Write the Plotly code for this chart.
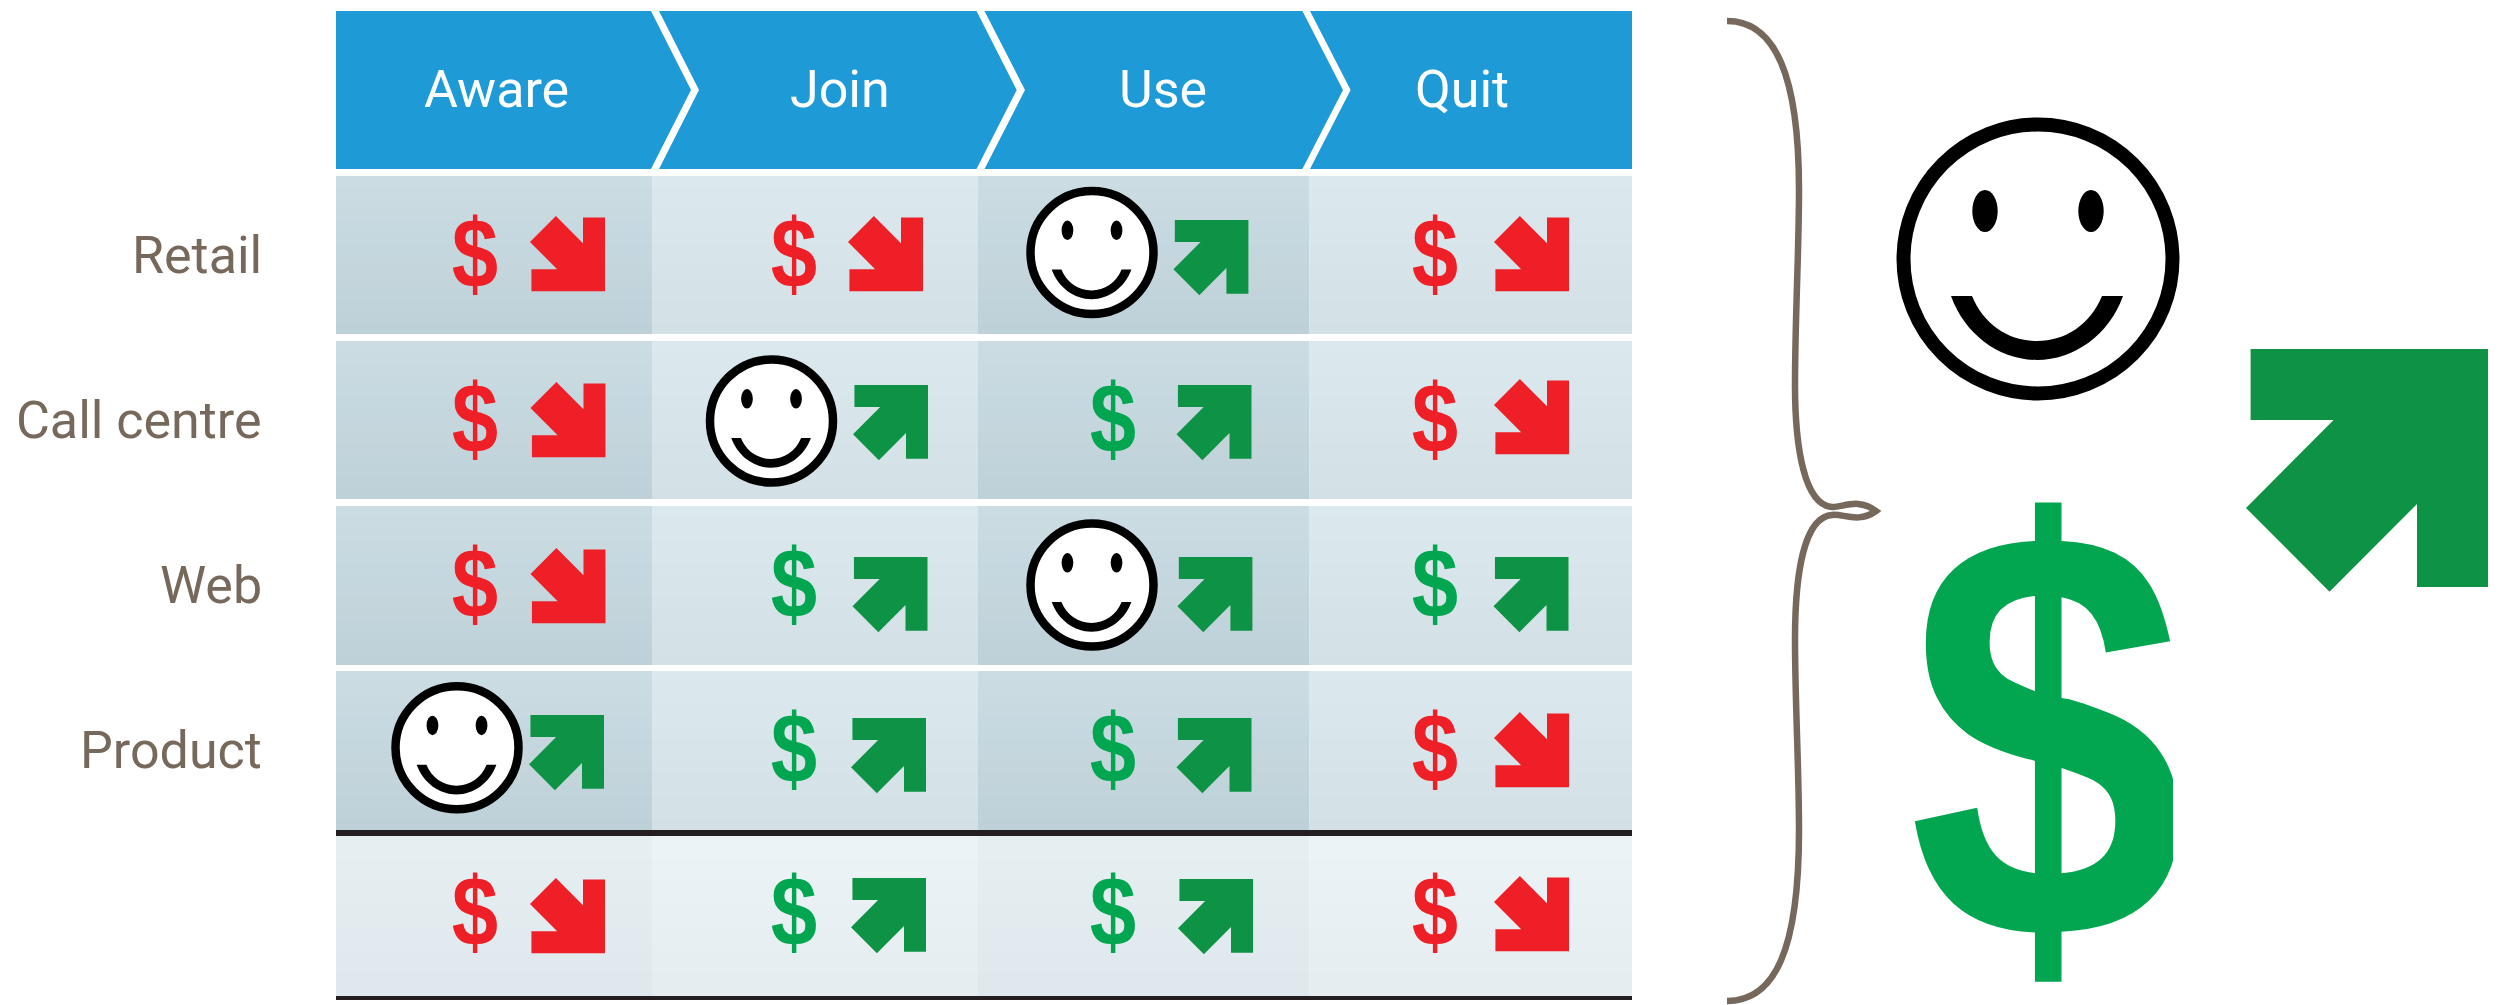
import plotly.graph_objects as go

# ---------- data ----------
stages = ["Aware", "Join", "Use", "Quit"]
channels = ["Retail", "Call centre", "Web", "Product"]
# 1 = up/green, 0 = down/red. Last row is the unlabelled total row
dollar_up = [[0, 0, None, 0],
             [0, None, 1, 0],
             [0, 1, None, 1],
             [None, 1, 1, 0],
             [0, 1, 1, 0]]
arrow_up = [[0, 0, 1, 0],
            [0, 1, 1, 0],
            [0, 1, 1, 1],
            [1, 1, 1, 0],
            [0, 1, 1, 0]]
happy = [(0, 2), (1, 1), (2, 2), (3, 0)]

# ---------- layout tables (pixels) ----------
W, H = 2509, 1005
col_edges = [336, 652, 978, 1309.5, 1632]
row_spans = [(176, 334), (341, 499), (506, 665), (671, 830), (836, 996)]
dollar_x = [475, 794, 1113, 1435]
dollar_y = [255, 420, 585, 750, 913]
smile_x = [457, 771.5, 1092]
smile_y = [252.5, 421, 585, 747.7]
arrow_right = [[605, 923, 1248.4, 1569], [605.5, 928, 1251.5, 1569], [605.5, 927.5, 1252.4, 1568.5],
               [604, 926, 1251.5, 1569], [605, 926, 1253, 1569]]
arrow_top = [[216, 216, 220, 216], [382, 385, 385, 379], [548, 557, 557, 557],
             [715, 718, 718, 712], [878, 878, 879, 876]]
label_y = [255, 420, 585, 750]
header_x = [496.5, 840, 1163, 1462]

BLUE, RED, GREEN_ARROW, GREEN_DOLLAR = "#1e9ad6", "#ee1f26", "#0e9346", "#02a650"
BROWN, DARK = "#76695c", "#231f20"
DOLLAR_FONT = "Liberation Sans"
DOLLAR_SMALL, DOLLAR_BIG = 98, 587
DOLLAR_SHIFT = 0.086  # text box centre sits this far (in em) above the ink centre
DOLLAR_NARROW = 0.85  # horizontal condensing of the dollar glyphs

# arrow glyph, relative to its top right corner, at large size
ARROW = [(-237.4, 0), (0, 0), (0, 238), (-71, 238), (-71, 155), (-158.5, 242.7),
         (-242, 159), (-154.4, 71), (-237.4, 71)]
ARROW_H = 242.7
SMALL = 75 / 242.0

def arrow_points(right, top, up, scale):
    xs, ys = [], []
    for px, py in ARROW:
        xs.append(right + px * scale)
        ys.append(top + (py if up else ARROW_H - py) * scale)
    return xs + [xs[0], None], ys + [ys[0], None]

def mix(a, b, t):
    ca = [int(a[i:i + 2], 16) for i in (1, 3, 5)]
    cb = [int(b[i:i + 2], 16) for i in (1, 3, 5)]
    return "rgb(%d,%d,%d)" % tuple(round(p + (q - p) * t) for p, q in zip(ca, cb))

shapes = []
def rect(x0, y0, x1, y1, color, layer="below"):
    shapes.append(dict(type="rect", x0=x0, y0=y0, x1=x1, y1=y1, fillcolor=color,
                       line=dict(width=0), layer=layer))

# table cells with a soft vertical gradient
palette_main = [("#cbdde3", "#bfd1d8"), ("#dbe8ed", "#d3e0e5")]
palette_total = [("#e5eef1", "#dfe8ec"), ("#ecf3f6", "#e6edf0")]
BANDS = 14
for r, (top, bottom) in enumerate(row_spans):
    pal = palette_total if r == 4 else palette_main
    for c in range(4):
        c0, c1 = pal[c % 2]
        for b in range(BANDS):
            y0 = round(top + (bottom - top) * b / BANDS)
            y1 = round(top + (bottom - top) * (b + 1) / BANDS)
            rect(col_edges[c], y0, col_edges[c + 1], y1, mix(c0, c1, b / (BANDS - 1)))
rect(336, 830, 1632, 836, DARK)
rect(336, 996, 1632, 1000, DARK)

# chevron header
TOP, BOT, MID = 11, 169, 90
seg = [(None, 651, 691), (659, 976.5, 1016.7), (984.5, 1302.4, 1343), (1310, None, None)]
notch = [None, 699, 1025, 1350.6]
for i, (l, rt, tip) in enumerate(seg):
    if i == 0:
        d = f"M 336 {TOP} L {rt} {TOP} L {tip} {MID} L {rt} {BOT} L 336 {BOT} Z"
    elif i == 3:
        d = f"M {l} {TOP} L 1632 {TOP} L 1632 {BOT} L {l} {BOT} L {notch[i]} {MID} Z"
    else:
        d = f"M {l} {TOP} L {rt} {TOP} L {tip} {MID} L {rt} {BOT} L {l} {BOT} L {notch[i]} {MID} Z"
    shapes.append(dict(type="path", path=d, fillcolor=BLUE, line=dict(width=0), layer="below"))

# smiley built of real shapes
MOUTH = [(-87, 37), (-73, 76), (-38, 101), (-1, 101), (36, 101), (71, 76), (85, 37),
         (64, 37), (52, 66), (27, 82), (-1, 82), (-29, 82), (-54, 66), (-66, 37)]
def smiley(cx, cy, outer, stroke, k):
    rad = (outer - stroke) / 2
    shapes.append(dict(type="circle", x0=cx - rad, x1=cx + rad, y0=cy - rad, y1=cy + rad,
                       fillcolor="white", line=dict(color="black", width=stroke), layer="above"))
    for ex in (-53, 53):
        shapes.append(dict(type="circle", x0=cx + (ex - 12.7) * k, x1=cx + (ex + 12.7) * k,
                           y0=cy + (-48 - 21) * k, y1=cy + (-48 + 21) * k,
                           fillcolor="black", line=dict(width=0), layer="above"))
    p = [(cx + a * k, cy + b * k) for a, b in MOUTH]
    f = lambda t: f"{t[0]:.1f} {t[1]:.1f}"
    d = (f"M {f(p[0])} C {f(p[1])} {f(p[2])} {f(p[3])} C {f(p[4])} {f(p[5])} {f(p[6])} "
         f"L {f(p[7])} C {f(p[8])} {f(p[9])} {f(p[10])} C {f(p[11])} {f(p[12])} {f(p[13])} Z")
    shapes.append(dict(type="path", path=d, fillcolor="black", line=dict(width=0), layer="above"))

for r, c in happy:
    smiley(smile_x[c], smile_y[r], 131.5, 8.5, 0.463)
smiley(2038, 259, 283, 14, 1.0)

# brace
brace = ("M 1727 21 C 1775 21 1799 75 1799 190 C 1799 250 1795 320 1795 385 "
         "C 1795 450 1805 505 1832 507 C 1842 508 1858 497 1876 511 "
         "C 1858 524 1842 513 1832 515 C 1805 517 1795 570 1795 640 "
         "C 1795 700 1799 770 1799 830 C 1799 950 1775 1001 1727 1001")
shapes.append(dict(type="path", path=brace, line=dict(color=BROWN, width=6.5), layer="below"))

# the large dollar sign is cut straight on its right
rect(2173, 640, 2200, 900, "white", layer="above")

fig = go.Figure()

# arrows
for up, col in ((0, RED), (1, GREEN_ARROW)):
    ax, ay = [], []
    for r, row in enumerate(arrow_up):
        for c, v in enumerate(row):
            if v == up:
                px, py = arrow_points(arrow_right[r][c], arrow_top[r][c], up, SMALL)
                ax += px
                ay += py
    fig.add_trace(go.Scatter(x=ax, y=ay, mode="lines", fill="toself", fillcolor=col,
                             line=dict(width=0), hoverinfo="skip"))
px, py = arrow_points(2488, 349, 1, 1.0)
fig.add_trace(go.Scatter(x=px, y=py, mode="lines", fill="toself", fillcolor=GREEN_ARROW,
                         line=dict(width=0), hoverinfo="skip"))

# dollars
for up, col in ((0, RED), (1, GREEN_DOLLAR)):
    dx, dy = [], []
    for r, row in enumerate(dollar_up):
        for c, v in enumerate(row):
            if v == up:
                dx.append(dollar_x[c])
                dy.append(dollar_y[r] + DOLLAR_SHIFT * DOLLAR_SMALL)
    fig.add_trace(go.Scatter(x=dx, y=dy, mode="text", text=["$"] * len(dx), textposition="middle center",
                             textfont=dict(family=DOLLAR_FONT, size=DOLLAR_SMALL, color=col, weight=700),
                             hoverinfo="skip"))
fig.add_trace(go.Scatter(x=[2047], y=[741 + DOLLAR_SHIFT * DOLLAR_BIG], mode="text", text=["$"],
                         textposition="middle center",
                         textfont=dict(family=DOLLAR_FONT, size=DOLLAR_BIG, color=GREEN_DOLLAR, weight=700),
                         hoverinfo="skip"))

ann = []
for name, x in zip(stages, header_x):
    ann.append(dict(x=x, y=89.5, text=name, showarrow=False, xanchor="center", yanchor="middle",
                    font=dict(family="Roboto", size=52, color="white")))
for name, y in zip(channels, label_y):
    ann.append(dict(x=264, y=y, text=name, showarrow=False, xanchor="right", yanchor="middle",
                    font=dict(family="Roboto", size=52, color=BROWN, weight=400)))

fig.update_layout(
    width=W, height=H, margin=dict(l=0, r=0, t=0, b=0), showlegend=False,
    paper_bgcolor="white", plot_bgcolor="white", shapes=shapes, annotations=ann,
    xaxis=dict(range=[0, W], visible=False, fixedrange=True),
    yaxis=dict(range=[H, 0], visible=False, fixedrange=True),
)
post = ("document.body.style.margin='0';document.body.style.overflow='hidden';"
        "document.querySelectorAll('.textpoint text').forEach(function(t){"
        "var x=parseFloat(t.getAttribute('x'))||0;var old=t.getAttribute('transform')||'';"
        "t.setAttribute('transform','translate('+x+' 0) scale(%s 1) translate('+(-x)+' 0) '+old);});" % DOLLAR_NARROW)
fig.write_html("out.html", config={"displayModeBar": False}, post_script=post)
